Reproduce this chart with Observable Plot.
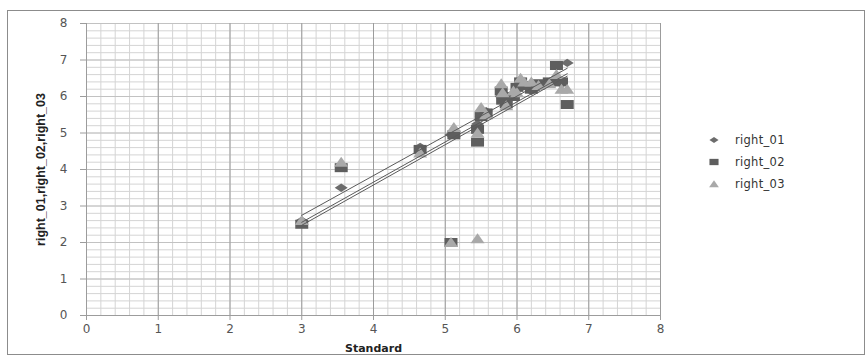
<!DOCTYPE html>
<html>
<head>
<meta charset="utf-8">
<script src="https://cdn.jsdelivr.net/npm/d3@7"></script>
<script src="https://cdn.jsdelivr.net/npm/@observablehq/plot@0.6"></script>
<style>
  html, body { margin: 0; padding: 0; background: #fff; }
  #wrap { position: relative; width: 868px; height: 360px; overflow: hidden; font-family: "DejaVu Sans", sans-serif; }
  #frame { position: absolute; left: 7px; top: 10px; width: 858px; height: 345px; border: 1px solid #8c8c8c; box-sizing: border-box; pointer-events: none; }
  #legend { position: absolute; left: 704px; top: 129px; font-size: 11.5px; color: #333; letter-spacing: 0.3px; }
  #legend .row { display: flex; align-items: center; height: 22px; }
  #legend svg { width: 20px; height: 14px; margin-right: 11px; }
  #chart { position: absolute; left: 0; top: 0; }
</style>
</head>
<body>
<div id="wrap">
  <div id="chart"></div>
  <div id="frame"></div>
  <div id="legend"></div>
</div>
<script>
// ---- data ----
const standard = [3.00, 3.55, 4.65, 5.08, 5.12, 5.45, 5.45, 5.50, 5.57, 5.78, 5.80, 5.85, 5.95, 6.00, 6.05, 6.10, 6.20, 6.30, 6.45, 6.55, 6.62, 6.70];
const right_01 = [2.60, 3.50, 4.62, 4.95, 4.98, 5.05, 5.25, 5.45, 5.60, 6.00, 5.95, 5.85, 6.05, 6.20, 6.35, 6.30, 6.15, 6.25, 6.40, 6.45, 6.35, 6.92];
const right_02 = [2.50, 4.05, 4.55, 2.00, 4.95, 4.75, 5.10, 5.45, 5.55, 6.15, 5.90, 5.80, 6.00, 6.25, 6.40, 6.30, 6.20, 6.35, 6.40, 6.85, 6.40, 5.78];
const right_03 = [2.60, 4.20, 4.45, 2.00, 5.15, 2.10, 5.00, 5.70, 5.50, 6.35, 6.10, 5.75, 6.15, 6.10, 6.50, 6.40, 6.40, 6.30, 6.35, 6.60, 6.20, 6.20];
const seriesNames = ["right_01", "right_02", "right_03"];
const seriesValues = [right_01, right_02, right_03];
const axisTicks = [0, 1, 2, 3, 4, 5, 6, 7, 8];
const xTitle = "Standard";
const yTitle = "right_01,right_02,right_03";

// ---- styles ----
const colors = ["#6c6c6c", "#5e5e5e", "#a9a9a9"];
const diamond = { draw(c) { c.moveTo(0, -4.2); c.lineTo(6.5, 0); c.lineTo(0, 4.2); c.lineTo(-6.5, 0); c.closePath(); } };
const square = { draw(c) { c.moveTo(-6.5, -4.5); c.lineTo(6.5, -4.5); c.lineTo(6.5, 4.5); c.lineTo(-6.5, 4.5); c.closePath(); } };
const triangle = { draw(c) { c.moveTo(0, -5.5); c.lineTo(7, 4.5); c.lineTo(-7, 4.5); c.closePath(); } };
const symbols = [diamond, square, triangle];

const tables = seriesValues.map(vals => standard.map((x, i) => ({ x, y: vals[i] })));

const minor = d3.range(0, 8.0001, 0.2);

const plot = Plot.plot({
  width: 868,
  height: 360,
  marginLeft: 86,
  marginRight: 208,
  marginTop: 23,
  marginBottom: 45,
  x: { domain: [0, 8] },
  y: { domain: [0, 8] },
  style: { fontFamily: "DejaVu Sans, sans-serif", fontSize: "11px", color: "#444", background: "transparent" },
  marks: [
    Plot.gridX(minor, { stroke: "#d4d4d4", strokeOpacity: 1 }),
    Plot.gridY(minor, { stroke: "#d4d4d4", strokeOpacity: 1 }),
    Plot.gridY(axisTicks, { stroke: "#c2c2c2", strokeOpacity: 1 }),
    Plot.gridX(axisTicks, { stroke: "#9c9c9c", strokeOpacity: 1 }),
    Plot.ruleY([0], { stroke: "#9c9c9c" }),
    Plot.ruleX([0], { stroke: "#9c9c9c" }),
    Plot.axisX(axisTicks, { tickSize: 5, tickPadding: 4, stroke: "#9c9c9c", fill: "#555", fontSize: 12, label: null, tickFormat: d => String(d) }),
    Plot.axisY(axisTicks, { tickSize: 6, tickPadding: 13, stroke: "#9c9c9c", fill: "#555", fontSize: 12, label: null, tickFormat: d => String(d) }),
    ...tables.map((t, k) => Plot.dot(t, { x: "x", y: "y", symbol: symbols[k], fill: colors[k], stroke: "none", r: 4 })),
    ...tables.map(t => Plot.linearRegressionY(t, { x: "x", y: "y", stroke: "#5a5a5a", strokeWidth: 1, ci: 0 })),
    Plot.text([xTitle], { frameAnchor: "bottom", lineAnchor: "middle", dy: 33, fontWeight: "bold", fontSize: 11, fill: "#222" }),
    Plot.text([yTitle], { frameAnchor: "left", textAnchor: "middle", lineAnchor: "middle", dx: -46, rotate: -90, fontWeight: "bold", fontSize: 12.5, fill: "#222", fontFamily: "Liberation Sans Narrow, Arial Narrow, Liberation Sans, sans-serif" })
  ]
});
document.getElementById("chart").appendChild(plot);

// ---- legend ----
const legend = d3.select("#legend");
seriesNames.forEach((name, k) => {
  const row = legend.append("div").attr("class", "row");
  const svg = row.append("svg").attr("viewBox", "-10 -7 20 14");
  const s = 0.7;
  const path = d3.path();
  symbols[k].draw(path);
  svg.append("path").attr("d", path.toString()).attr("fill", colors[k]).attr("transform", `scale(${s})`);
  row.append("span").text(name);
});
</script>
</body>
</html>
